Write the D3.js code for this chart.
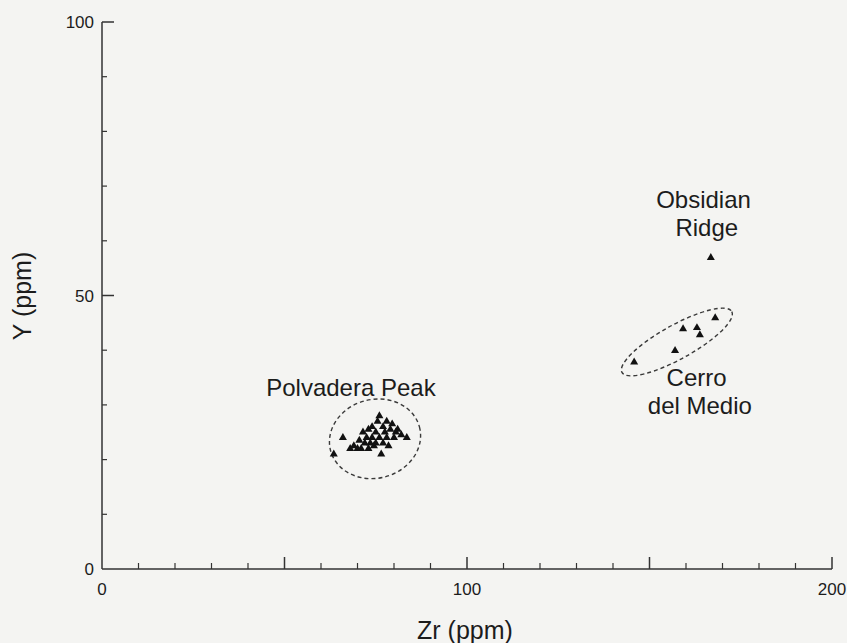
<!DOCTYPE html>
<html><head><meta charset="utf-8">
<script src="https://cdn.jsdelivr.net/npm/d3@7"></script>
<style>
html,body{margin:0;padding:0;background:#f4f4f2;}
svg{display:block;}
text{font-family:Arial,"Liberation Sans",sans-serif;fill:#1c1c1c;}
</style></head><body>
<svg id="chart" width="847" height="643"></svg>
<script>
// Data (Zr ppm, Y ppm)
const polvaderaPeak = [
  [63.5,21],[66,24],[68,22],[69,22.5],[70,22],[70.5,23.5],[71,22],[71.5,25],[72,23],
  [72.5,24],[73,22],[73,25.5],[73.5,23],[74,24],[74,26],[74.5,22.5],[75,25],[75,23],
  [75.5,27],[76,28],[76,24],[76.5,21],[77,26],[77,23],[77.5,25],[78,27],[78,24],
  [78.5,22.5],[79,25.5],[79.5,26.5],[80,24],[80.5,25],[81,25.5],[82,24.5],[83.5,24]
];
const cerroDelMedio = [[145.8,37.8],[157,39.9],[159.2,43.9],[163,44.1],[163.8,42.8],[168,45.9]];
const obsidianRidge = [[166.8,56.9]];
const xTicks = [0,100,200];
const yTicks = [0,50,100];
// group ellipses: center (Zr, Y), semi-axes in data units, rotation (deg, screen)
const ellipses = [
  {cx:74.8, cy:23.8, a:12.6, b:7.2, rot:-15},
  {cx:157.5, cy:41.5, a:17.2, b:3.1, rot:-29}
];
const labels = [
  {text:"Polvadera Peak", x:68.2, y:31.6},
  {text:"Obsidian", x:164.8, y:66.0},
  {text:"Ridge", x:165.7, y:60.9},
  {text:"Cerro", x:162.9, y:33.5},
  {text:"del Medio", x:163.8, y:28.4}
];

const svg = d3.select("#chart");
const x = d3.scaleLinear().domain([0,200]).range([102,832]);
const y = d3.scaleLinear().domain([0,100]).range([569,22]);
const axisColor = "#333";

// x axis
const gx = svg.append("g");
gx.append("line").attr("x1",x(0)).attr("x2",x(200)).attr("y1",y(0)).attr("y2",y(0))
  .attr("stroke",axisColor).attr("stroke-width",1.5);
d3.range(10,201,10).forEach(v=>{
  const major = v%50===0;
  gx.append("line").attr("x1",x(v)).attr("x2",x(v)).attr("y1",y(0)).attr("y2",y(0)-(major?12:6))
    .attr("stroke",axisColor).attr("stroke-width",major?1.5:1.2);
});
gx.selectAll("text.xt").data(xTicks).enter().append("text")
  .attr("x",d=>x(d)).attr("y",y(0)+26).attr("text-anchor","middle").attr("font-size",17).text(d=>d);

// y axis
const gy = svg.append("g");
gy.append("line").attr("x1",x(0)).attr("x2",x(0)).attr("y1",y(0)).attr("y2",y(100))
  .attr("stroke",axisColor).attr("stroke-width",1.5);
d3.range(10,101,10).forEach(v=>{
  const major = v%50===0;
  gy.append("line").attr("x1",x(0)).attr("x2",x(0)+(major?12:5)).attr("y1",y(v)).attr("y2",y(v))
    .attr("stroke",axisColor).attr("stroke-width",major?1.5:1.2);
});
gy.selectAll("text.yt").data(yTicks).enter().append("text")
  .attr("x",x(0)-8).attr("y",d=>y(d)+6).attr("text-anchor","end").attr("font-size",17).text(d=>d);

// axis titles
svg.append("text").attr("x",465).attr("y",639).attr("text-anchor","middle").attr("font-size",25).text("Zr (ppm)");
svg.append("text").attr("transform",`translate(31,296) rotate(-90)`).attr("text-anchor","middle").attr("font-size",25).text("Y (ppm)");

// ellipses
ellipses.forEach(e=>{
  const cx = x(e.cx), cy = y(e.cy);
  const rx = x(e.cx+e.a)-cx, ry = cy-y(e.cy+e.b);
  svg.append("ellipse").attr("cx",0).attr("cy",0).attr("rx",rx).attr("ry",ry)
    .attr("transform",`translate(${cx},${cy}) rotate(${e.rot})`)
    .attr("fill","none").attr("stroke","#3a3a3a").attr("stroke-width",1.4).attr("stroke-dasharray","4,3");
});

// points
const tri = d3.symbol().type(d3.symbolTriangle).size(28);
[polvaderaPeak, cerroDelMedio, obsidianRidge].forEach(arr=>{
  svg.append("g").selectAll("path").data(arr).enter().append("path")
    .attr("d",tri).attr("transform",d=>`translate(${x(d[0])},${y(d[1])})`).attr("fill","#111");
});

// labels
svg.selectAll("text.lab").data(labels).enter().append("text")
  .attr("x",d=>x(d.x)).attr("y",d=>y(d.y)).attr("text-anchor","middle").attr("font-size",24).text(d=>d.text);
</script>
</body></html>
